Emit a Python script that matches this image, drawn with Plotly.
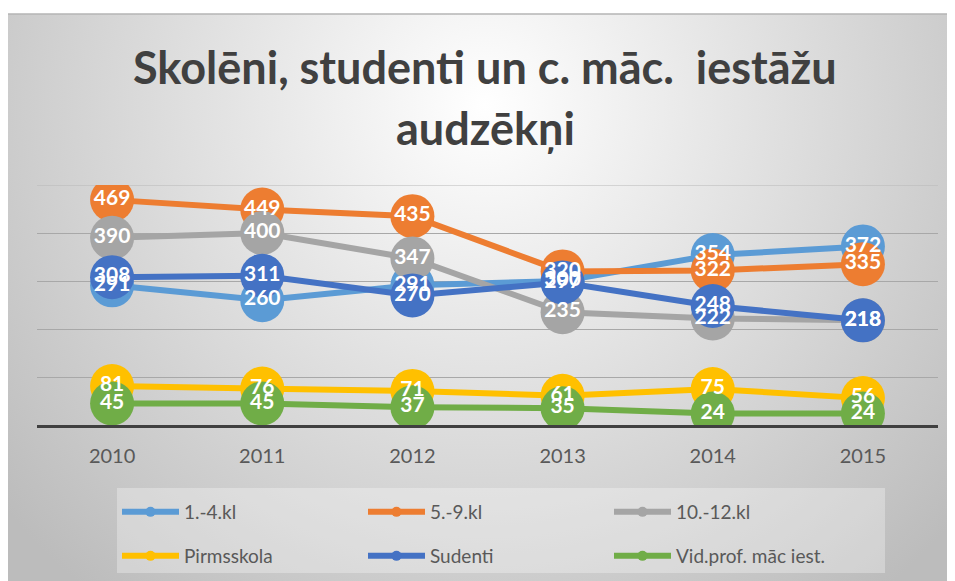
import base64
import plotly.graph_objects as go

years = ["2010", "2011", "2012", "2013", "2014", "2015"]
kl_1_4 = [291, 260, 291, 300, 354, 372]
kl_5_9 = [469, 449, 435, 320, 322, 335]
kl_10_12 = [390, 400, 347, 235, 222, 218]
pirmsskola = [81, 76, 71, 61, 75, 56]
sudenti = [308, 311, 270, 297, 248, 218]
vidprof = [45, 45, 37, 35, 24, 24]

series_names = ["1.-4.kl", "5.-9.kl", "10.-12.kl", "Pirmsskola", "Sudenti", "Vid.prof. māc iest."]
series_values = [kl_1_4, kl_5_9, kl_10_12, pirmsskola, sudenti, vidprof]
colors = ["#5B9BD5", "#ED7D31", "#A5A5A5", "#FFC000", "#4472C4", "#70AD47"]
grid_values = [100, 200, 300, 400, 500]

title_line1 = "Skolēni, studenti un c. māc.\u00a0 iestāžu"
title_line2 = "audzēkņi"

# page has an 8px body margin; work in screen pixels and convert
OFF = 8
W, H = 955, 581
PL, PR, PT, PB = 37, 938, 185, 425  # plot area in screen pixels
L, T = PL - OFF, PT - OFF
R, B = W - (PR - OFF), H - (PB - OFF)
pw, ph = PR - PL, PB - PT

def px_x(x):
    return (x - PL) / pw

def px_y(y):
    return (PB - y) / ph

fig = go.Figure()

for i, (name, vals, col) in enumerate(zip(series_names, series_values, colors)):
    fig.add_trace(go.Scatter(
        x=years, y=vals, name=name, mode="lines+markers",
        line=dict(color=col, width=6),
        marker=dict(color=col, size=44),
        showlegend=False, hoverinfo="skip",
    ))

for name, vals in zip(series_names, series_values):
    fig.add_trace(go.Scatter(
        x=years, y=vals, mode="text", text=[str(v) for v in vals],
        textposition="middle center",
        textfont=dict(color="white", size=21, family="Lato", weight="bold"),
        showlegend=False, hoverinfo="skip",
    ))

# legend entries (small markers like the reference)
for i, (name, col) in enumerate(zip(series_names, colors)):
    fig.add_trace(go.Scatter(
        x=[None], y=[None], name=name, mode="lines+markers",
        line=dict(color=col, width=6), marker=dict(color=col, size=10),
        legend="legend" if i < 3 else "legend2", hoverinfo="skip",
    ))

# background gradient
gw, gh = 948, 567
svg = (f"<svg xmlns='http://www.w3.org/2000/svg' width='{gw}' height='{gh}' viewBox='0 0 {gw} {gh}' preserveAspectRatio='none'>"
       f"<defs><radialGradient id='g' gradientUnits='userSpaceOnUse' cx='{gw/2}' cy='90' r='620'>"
       "<stop offset='0' stop-color='#ffffff'/><stop offset='1' stop-color='#bcbcbc'/></radialGradient></defs>"
       f"<rect width='{gw}' height='{gh}' fill='url(#g)'/></svg>")
src = "data:image/svg+xml;base64," + base64.b64encode(svg.encode()).decode()
fig.add_layout_image(dict(
    source=src, xref="paper", yref="paper",
    x=px_x(7), y=px_y(14), sizex=(W + OFF - 7) / pw, sizey=(H + OFF - 14) / ph,
    xanchor="left", yanchor="top", sizing="stretch", layer="below",
))

shapes = [
    dict(type="line", xref="paper", yref="paper", x0=px_x(7), x1=px_x(965), y0=px_y(14), y1=px_y(14),
         line=dict(color="#b4b4b4", width=1.5)),
    dict(type="rect", xref="paper", yref="paper", x0=px_x(117), x1=px_x(885), y0=px_y(488), y1=px_y(573),
         fillcolor="rgba(255,255,255,0.3)", line=dict(width=0), layer="below"),
    dict(type="line", xref="paper", yref="y", x0=0, x1=1, y0=grid_values[-1], y1=grid_values[-1],
         line=dict(color="#b8b8b8", width=1), layer="below"),
]

annotations = [
    dict(text=title_line1, xref="paper", yref="paper", x=px_x(485), y=px_y(67), showarrow=False,
         xanchor="center", yanchor="middle", font=dict(family="Lato", size=45, color="#404040", weight="bold")),
    dict(text=title_line2, xref="paper", yref="paper", x=px_x(485), y=px_y(128), showarrow=False,
         xanchor="center", yanchor="middle", font=dict(family="Lato", size=45, color="#404040", weight="bold")),
]

legend_common = dict(orientation="h", bgcolor="rgba(0,0,0,0)", borderwidth=0,
                     font=dict(family="Lato", size=19, color="#595959"),
                     entrywidth=174, entrywidthmode="pixels", itemwidth=57,
                     xanchor="left", yanchor="middle", itemclick=False, itemdoubleclick=False)

fig.update_layout(
    width=W, height=H, margin=dict(l=L, r=R, t=T, b=B, autoexpand=False),
    paper_bgcolor="white", plot_bgcolor="rgba(0,0,0,0)",
    shapes=shapes, annotations=annotations,
    legend=dict(**legend_common, x=px_x(117), y=px_y(512)),
    legend2=dict(**legend_common, x=px_x(117), y=px_y(556)),
    xaxis=dict(type="category", range=[-0.5, 5.5], showline=True, linecolor="#404040", linewidth=3,
               showgrid=False, ticks="outside", ticklen=11, tickcolor="rgba(0,0,0,0)",
               tickfont=dict(family="Lato", size=20, color="#595959"), fixedrange=True),
    yaxis=dict(range=[0, 500], tickvals=grid_values, showgrid=True, gridcolor="#a8a8a8", gridwidth=1,
               showticklabels=False, zeroline=False, showline=False, fixedrange=True),
    showlegend=True,
)

fig.write_html("out.html")
